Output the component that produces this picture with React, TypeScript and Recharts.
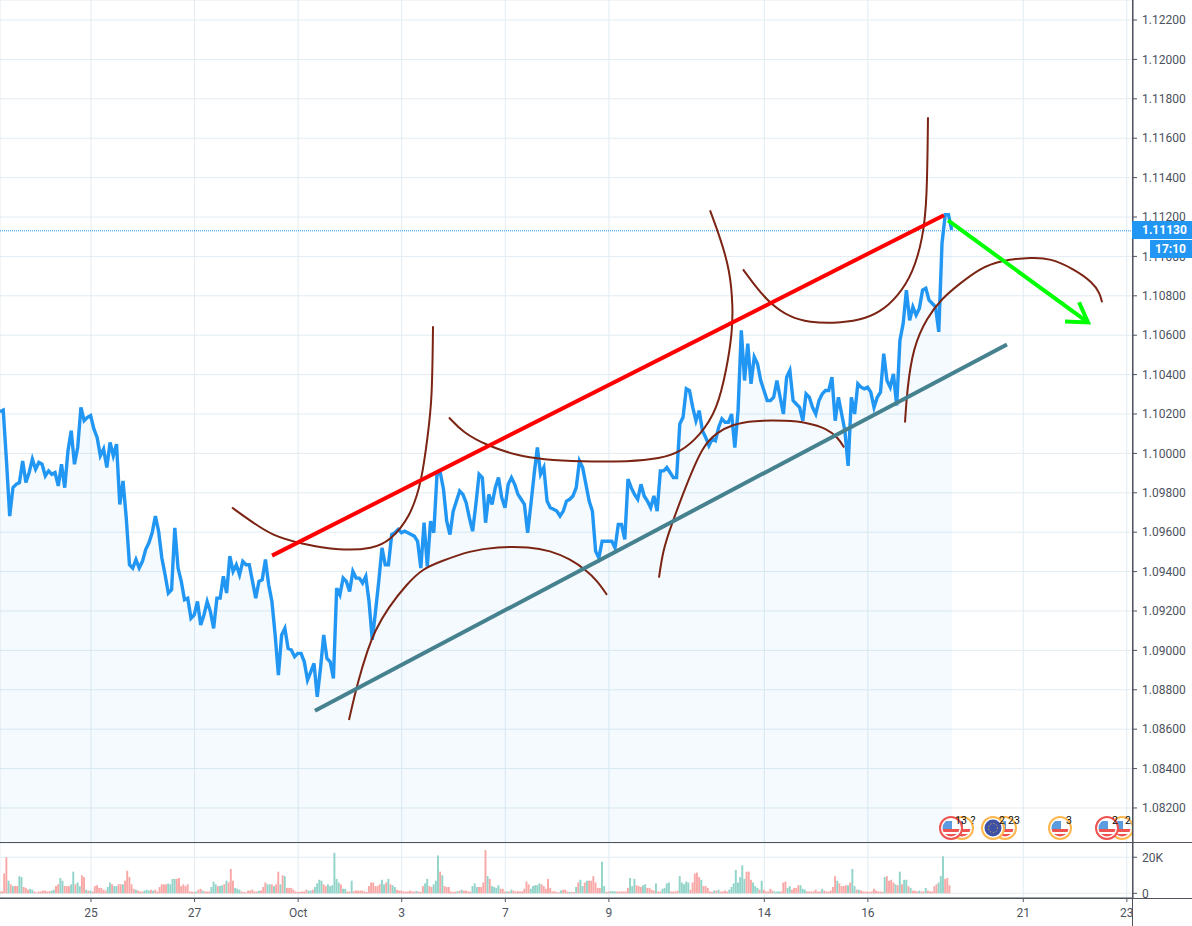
import { Area, Bar, CartesianGrid, Cell, ComposedChart, Line, ReferenceLine, XAxis, YAxis } from 'recharts';

const BAR_DOMAIN = [0, 1050];
const PRICE_DOMAIN = [1.080221, 1.123017];
const VOLUME_DOMAIN = [-2.6, 27.9];
const CLOSE_STEP = 3;
const VOLUME_STEP = 2;

const tickBars = [84.3, 180.3, 276.3, 372.3, 468.3, 564.3, 708.3, 804.3, 948.3, 1044.3];
const tickLabels = ['25', '27', 'Oct', '3', '7', '9', '14', '16', '21', '23'];
const priceTicks = [
  1.082, 1.084, 1.086, 1.088, 1.09, 1.092, 1.094, 1.096, 1.098, 1.1, 1.102, 1.104, 1.106, 1.108, 1.11, 1.112,
  1.114, 1.116, 1.118, 1.12, 1.122,
];
const volumeTicks = [0, 20];
const lastPrice = 1.1113;

// one close every 3 bars
const closes = [
  1.10212, 1.1022, 1.09962, 1.09682, 1.09826, 1.09843, 1.09852, 1.09962, 1.09852, 1.09903, 1.09971, 1.0992,
  1.09954, 1.09945, 1.09886, 1.09911, 1.09894, 1.09903, 1.09835, 1.09945, 1.09826, 1.10013, 1.10115, 1.09945,
  1.1003, 1.10234, 1.10166, 1.10183, 1.10192, 1.10124, 1.10081, 1.09988, 1.10022, 1.09928, 1.10056, 1.09988,
  1.10047, 1.09741, 1.0986, 1.09673, 1.09435, 1.09418, 1.09461, 1.09418, 1.09452, 1.09512, 1.09546, 1.09597,
  1.09682, 1.09605, 1.09469, 1.09384, 1.09291, 1.09308, 1.09622, 1.09418, 1.0935, 1.09257, 1.09265, 1.09163,
  1.0918, 1.09248, 1.09129, 1.0918, 1.09248, 1.09197, 1.09112, 1.09265, 1.09265, 1.09376, 1.09291, 1.09478,
  1.09401, 1.09435, 1.09384, 1.09452, 1.09435, 1.09435, 1.0935, 1.09265, 1.0935, 1.09359, 1.09461, 1.09333,
  1.09248, 1.09078, 1.08874, 1.09078, 1.09112, 1.0901, 1.09002, 1.08968, 1.08985, 1.08985, 1.08942, 1.08849,
  1.08891, 1.08934, 1.08764, 1.08908, 1.09078, 1.08959, 1.08942, 1.08857, 1.09316, 1.09282,
  1.09367, 1.0935, 1.09299, 1.09401, 1.09367, 1.09367, 1.09342, 1.09376, 1.09248, 1.09053, 1.09197, 1.0935,
  1.0952, 1.09435, 1.09435, 1.09588, 1.09597, 1.09614, 1.09597, 1.09605, 1.09597, 1.09588, 1.0958,
  1.09554, 1.09418, 1.09648, 1.09427, 1.09656, 1.09597, 1.09894, 1.09903, 1.09818, 1.09656, 1.09588, 1.09707,
  1.09758, 1.09809, 1.09792, 1.0975, 1.09673, 1.09605, 1.09741, 1.09894, 1.09877, 1.09648, 1.09792, 1.09741,
  1.09826, 1.09877, 1.09775, 1.09724, 1.09843, 1.09877, 1.09843, 1.09792, 1.09767, 1.09741, 1.09597, 1.09741,
  1.09894, 1.1003, 1.09894, 1.09928, 1.09758, 1.09724, 1.09716, 1.09707, 1.09682, 1.09707, 1.09758, 1.09767,
  1.09784, 1.09826, 1.09962, 1.09928, 1.09843, 1.09758, 1.09707, 1.09503, 1.09469, 1.09554, 1.09554, 1.09554,
  1.09554, 1.0952, 1.09639, 1.09639, 1.09563, 1.09869, 1.09826, 1.09792, 1.09767, 1.09843, 1.09784, 1.09758,
  1.09724, 1.09784, 1.09707,
  1.09911, 1.09911, 1.09928, 1.09903, 1.09877, 1.09877, 1.10149, 1.10183, 1.10328, 1.10319, 1.10234, 1.10166,
  1.10217, 1.10115, 1.10081, 1.10039, 1.10073, 1.10064, 1.10132, 1.10175, 1.10158, 1.10158, 1.102, 1.1003,
  1.10217, 1.10625, 1.1037, 1.10557, 1.10353, 1.10489, 1.10455, 1.1037, 1.10319, 1.10268, 1.10268, 1.10285,
  1.1037, 1.10285, 1.102, 1.10387, 1.10421, 1.10268, 1.10251, 1.10234, 1.10166, 1.10302, 1.10285, 1.10234,
  1.102, 1.10268, 1.10302, 1.10319, 1.10319, 1.10387, 1.10166, 1.10285, 1.102, 1.10115, 1.09937, 1.10285,
  1.102, 1.10353, 1.10336, 1.10328, 1.10336, 1.10311, 1.10234, 1.10285, 1.10311, 1.10506, 1.1037, 1.10336,
  1.10404, 1.10243, 1.10574, 1.10659, 1.10829, 1.10676, 1.10744, 1.10702, 1.10736, 1.10829, 1.10838, 1.10778,
  1.10761, 1.10744, 1.10617, 1.11067, 1.11212, 1.11212, 1.11135,
];

// in thousands, one value every 2 bars; negative means an up bar
const signedVolumes = [
  1, 1, 11, 20, -7, 5, -4, 4, 4, -9.5, -9, 3.5, 3, 2, -2.5, -2, 1, 0.5, 1, 1, 1.5, 1.5, 1, 1.2, -1.5, -2, 4, 5,
  -8.5, -7, 4, 4, 4, -5, -12, 5, -6, -4, 10, 9, -2, 1.5, -1.5, 1, 4, 4.5, 3, 3, 2, 1.5, -3.5, -6, 5, -4, -4, 5,
  5, -5, 7, 12.5, 9, 5, 2.5, -2, 1.5, 1, 1, -1.5, -2, -1.5, 2, -1.5, 2, 1, 3.5, 5, 5, 5, -5.5, -5, -8, -8, 8,
  8.5, 4, 5, 4, 5, 1, 1, 0.7, -1, 2, 2.5, -1.5, 1, 1, 1, -3.5, -6.5, -5, 4, -4, -4.5, 5, -7, 6, 13.5, 7, -3,
  -2.5, -2, 1, 0.7, 0.5, 1.5, 1.5, 2, 1, 1, -1.5, 1.5, 3.5, 6, -5, -5, 5, -4, 5, 12, -5, 10, -9.5, 3, 3, 3, 2,
  1, 0.8, 0.8, 1, 1, 2, -1.5, -1.5, 2, -3.5, -5.5, -7.5, -7, 5, 4, -5, -4, -4.5, -22.5, -8, -6, 5, -2.5, -2.5,
  1, 1, -7, 1.2, 1.5, 1.5, 1.5, 1.5, 1, 0.7, 4, 6, 6, 4, 4, 5, -7.5, -5, 6, -8, 5, -4.5, -3.5, 2, 1.5, 1.5,
  1, 1, 1, 1.5, 1, 1, -1.3, 1, 0.8, 4, -5.5, -8, 4, 3.5, -5, -7, -21, 12, -10, 4, 3.5, 3.5, 1, 0.7, 1, -1.2,
  1.5, -2, 1.5, 1.5, 1, 1, -4, -5.5, -3.5, 3.5, 3.5, 6, 24, -9.5, 8, -4, -3.5, -3, -4.5, 2.5, 2.5, 1, -1, 1,
  -2, 1.5, 1, 1.2, 1, 1, 2.5, 6.5, 5, -2.5, -4, -4.5, -4.5, -5.5, 5, 4, 2.5, 8, 3, 1, 1.2, 0.6, 0.6, -1.5, 2,
  2, 1, -0.8, 0.8, 0.7, -3.5, 6, -7.5, -4, 6, -7, 7, 7, 9.5, 6, 3, 3, -17.5, -4, 0.8, 1, -1.2, -1.2, -1, 1, 1,
  1, 1, 1, 3, -8.5, -4, -8, 4.5, 4, 3.5, -4.5, -5, 3, 3, 2, 1.5, -5.5, 1, 1, -2.5, -3, -5.5, -6, 1, 1, 1, 1.5,
  -9.5, -6, -5, -6.5, -6, 2, 6, 11, 11.5, 9, -7.5, 4, 4, 3, 1, 0.8, -1.5, 1.5, -2, 1, 1, 1.5, 1, -2, -3.5, -5.5,
  -13, -6, -9, -15.5, -8, 12, 12, 7.5, -6, -4, -3, 2, -7, 2, 1, 1, 2.5, 1.5, -1, -1, -1, 1, 6, 6.5, -3, -4, 2,
  3, 3, 4.5, -4.5,
  -2.5, -2, 1, 1, 1, 1, 2, 1, 1, -2.5, 1.5, 1, 1, 1.5, 3.5, 9.5, -7, 5.5, 4, 4, 4.5, -4.5, 6, -13.5, -4, 2,
  -2, 1.5, 1, 1, 1, 0.8, 1, 2.5, 1.5, 1, 1, 0.8, -9, 9.5, 7, 7.5, 6, -5, 4.5, -12, 5, -7.5, -7.5, 4, -3, 1.5,
  1.5, 1, -1.5, 1, 1, -3, 1.5, 1, 1, 4, 5, -6, -9.5, -20.5, 8, 8.5, 4.5,
];

const redTrendBars = [252.1, 874.8];
const redTrendPrices = [1.09481, 1.11209];
const tealTrendBars = [291.9, 933.2];
const tealTrendPrices = [1.08693, 1.10553];
const greenArrowBars = [878.6, 1008.3];
const greenArrowPrices = [1.11183, 1.10665];
const greenHeadBars = [1000, 1008.3, 987];
const greenHeadPrices = [1.10767, 1.10665, 1.1067];

const curveABars = [215, 234.5, 253, 278, 315.1, 345.7, 361.4, 380, 391.1, 396.6, 400.4, 401.3];
const curveAPrices = [1.09725, 1.09648, 1.09582, 1.09542, 1.09506, 1.09516, 1.09557, 1.09674, 1.09862, 1.10101, 1.10268, 1.10645];
const curveBBars = [323.4, 331.8, 341, 347.5, 359.6, 377.2, 392, 407.8, 435.6, 460.6, 491.2, 509.7, 528.2, 544, 553.3, 562.5];
const curveBPrices = [1.08647, 1.08845, 1.09008, 1.09099, 1.09216, 1.09338, 1.09415, 1.0945, 1.09506, 1.09526, 1.09526, 1.09506, 1.09465, 1.09404, 1.09354, 1.09282];
const curveCBars = [416.1, 429.1, 451.3, 479.1, 503.2, 537.5, 583.8, 611.6, 630.2, 648.7, 664.5, 673.7, 678.4, 679.3, 676.5, 667.3, 658];
const curveCPrices = [1.10182, 1.10106, 1.1004, 1.09989, 1.09969, 1.09958, 1.09958, 1.09974, 1.10004, 1.10091, 1.10218, 1.10436, 1.10609, 1.10741, 1.10929, 1.11097, 1.11234];
const curveDBars = [610.7, 614.4, 620.9, 637.6, 651.5, 664.5, 678.4, 697.8, 729.4, 747.9, 766.4, 776.6, 782.2];
const curveDPrices = [1.09369, 1.09506, 1.09618, 1.09862, 1.1004, 1.10106, 1.10146, 1.10167, 1.10167, 1.10157, 1.10126, 1.1008, 1.1003];
const curveEBars = [688.6, 701.5, 713.6, 732.1, 750.7, 772, 797, 815.5, 831.3, 846.1, 855.4, 859.1, 860];
const curveEPrices = [1.10934, 1.10838, 1.10762, 1.1069, 1.10665, 1.1066, 1.10675, 1.10716, 1.10792, 1.10914, 1.11097, 1.11285, 1.11707];
const curveFBars = [838.7, 840.6, 846.1, 859.1, 873, 889.7, 908.2, 926.7, 957.3, 973.1, 994.4, 1012.9, 1019.4, 1021.3];
const curveFPrices = [1.10157, 1.10319, 1.10538, 1.1069, 1.10787, 1.10863, 1.10939, 1.1098, 1.10995, 1.1099, 1.10939, 1.10868, 1.10812, 1.10767];

const curves = [
  [curveABars, curveAPrices],
  [curveBBars, curveBPrices],
  [curveCBars, curveCPrices],
  [curveDBars, curveDPrices],
  [curveEBars, curveEPrices],
  [curveFBars, curveFPrices],
];

const toRows = (bars: number[], prices: number[]) => bars.map((bar, i) => ({ bar, price: prices[i] }));

const closeRows = closes.map((close, i) => ({ bar: i * CLOSE_STEP, close }));
const volumeRows = signedVolumes.map((v, i) => ({ bar: i * VOLUME_STEP, volume: Math.abs(v), up: v < 0 }));

const FONT = 'Roboto, sans-serif';
const TEXT = '#4c525e';
const GRID = '#e1ecf2';
const AXIS = '#50535e';
const BLUE = '#2196f3';
const BROWN = '#7b2413';

const tickStyle = { fontSize: 12, fill: TEXT, fontFamily: FONT };

// event marker under the price pane
function Flag({ cx, kind, ring, label, labelX }: { cx: number; kind: string; ring: string; label?: string; labelX?: number }) {
  const cy = 828;
  const id = `clip-${cx}`;
  return (
    <g>
      <clipPath id={id}>
        <circle cx={cx} cy={cy} r={8.5} />
      </clipPath>
      <circle cx={cx} cy={cy} r={11} fill="#fff" stroke={ring} strokeWidth={2} />
      {kind === 'us' ? (
        <g clipPath={`url(#${id})`}>
          <rect x={cx - 9} y={cy + 1} width={18} height={3} fill="#ef5350" />
          <rect x={cx - 9} y={cy + 6} width={18} height={3} fill="#ef5350" />
          <rect x={cx - 9} y={cy - 7} width={10} height={8} fill="#5b9bdf" />
        </g>
      ) : (
        <g>
          <circle cx={cx} cy={cy} r={8.5} fill="#3f51a5" />
          <circle cx={cx} cy={cy} r={4.5} fill="none" stroke="#f5c33b" strokeWidth={1} strokeDasharray="1 2" />
        </g>
      )}
      {label ? (
        <text x={labelX} y={824} fontSize={10.5} fontFamily={FONT} fill="#111" textAnchor="middle">
          {label}
        </text>
      ) : null}
    </g>
  );
}

export default function App() {
  return (
    <div style={{ position: 'absolute', left: 0, top: 0, width: 1192, height: 926, overflow: 'hidden', background: '#fff' }}>
      <div style={{ position: 'absolute', left: 0, top: 0 }}>
        <ComposedChart width={1192} height={843} data={closeRows} margin={{ top: 0, right: 0, bottom: 0, left: 0 }}>
          <CartesianGrid stroke={GRID} />
          <XAxis dataKey="bar" type="number" domain={BAR_DOMAIN} ticks={tickBars} allowDataOverflow hide />
          <YAxis
            orientation="right"
            type="number"
            domain={PRICE_DOMAIN}
            ticks={priceTicks}
            interval={0}
            allowDataOverflow
            width={59}
            stroke={AXIS}
            tick={tickStyle}
            tickSize={4}
            tickMargin={5}
            tickFormatter={(v: number) => v.toFixed(5)}
          />
          <ReferenceLine y={lastPrice} stroke={BLUE} strokeDasharray="1 1" />
          <Area
            dataKey="close"
            type="linear"
            stroke={BLUE}
            strokeWidth={3.4}
            fill={BLUE}
            fillOpacity={0.05}
            baseValue={PRICE_DOMAIN[0]}
            isAnimationActive={false}
            dot={false}
            activeDot={false}
          />
          {curves.map(([bars, prices], i) => (
            <Line
              key={i}
              data={toRows(bars, prices)}
              dataKey="price"
              type="basis"
              stroke={BROWN}
              strokeWidth={2}
              dot={false}
              activeDot={false}
              isAnimationActive={false}
            />
          ))}
          <Line data={toRows(redTrendBars, redTrendPrices)} dataKey="price" type="linear" stroke="#ff0000" strokeWidth={4} dot={false} activeDot={false} isAnimationActive={false} />
          <Line data={toRows(tealTrendBars, tealTrendPrices)} dataKey="price" type="linear" stroke="#45818e" strokeWidth={4} dot={false} activeDot={false} isAnimationActive={false} />
          <Line data={toRows(greenArrowBars, greenArrowPrices)} dataKey="price" type="linear" stroke="#00ff00" strokeWidth={4} dot={false} activeDot={false} isAnimationActive={false} />
          <Line data={toRows(greenHeadBars, greenHeadPrices)} dataKey="price" type="linear" stroke="#00ff00" strokeWidth={4} dot={false} activeDot={false} isAnimationActive={false} />
        </ComposedChart>
      </div>

      <div style={{ position: 'absolute', left: 0, top: 843 }}>
        <ComposedChart width={1192} height={83} data={volumeRows} margin={{ top: 0, right: 0, bottom: 0, left: 0 }}>
          <CartesianGrid stroke={GRID} />
          <XAxis
            dataKey="bar"
            type="number"
            domain={BAR_DOMAIN}
            ticks={tickBars}
            interval={0}
            allowDataOverflow
            height={28}
            stroke={AXIS}
            tick={tickStyle}
            tickSize={4}
            tickMargin={6}
            tickFormatter={(_v: number, i: number) => tickLabels[i]}
          />
          <YAxis
            orientation="right"
            type="number"
            domain={VOLUME_DOMAIN}
            ticks={volumeTicks}
            interval={0}
            allowDataOverflow
            width={59}
            stroke={AXIS}
            tick={tickStyle}
            tickSize={4}
            tickMargin={5}
            tickFormatter={(v: number) => (v === 0 ? '0' : `${v}K`)}
          />
          <Bar dataKey="volume" barSize={3} isAnimationActive={false}>
            {volumeRows.map((row) => (
              <Cell key={row.bar} fill={row.up ? '#92d4c9' : '#f8a9a7'} />
            ))}
          </Bar>
        </ComposedChart>
      </div>

      <svg width={1192} height={926} style={{ position: 'absolute', left: 0, top: 0, pointerEvents: 'none' }}>
        <svg x={0} y={0} width={1132} height={926}>
          <Flag cx={962} kind="us" ring="#ffb74d" label="?" labelX={973} />
          <Flag cx={951} kind="us" ring="#ef5350" label="13" labelX={961} />
          <Flag cx={1005} kind="us" ring="#ffb74d" label="23" labelX={1014} />
          <Flag cx={993} kind="eu" ring="#ffb74d" label="2" labelX={1002} />
          <Flag cx={1060} kind="us" ring="#ffb74d" label="3" labelX={1069} />
          <Flag cx={1122} kind="us" ring="#ffb74d" label="2" labelX={1128} />
          <Flag cx={1107} kind="us" ring="#ef5350" label="2" labelX={1115} />
        </svg>
      </svg>

      <div style={{ position: 'absolute', left: 1133, top: 899, width: 59, height: 27, background: '#fff' }} />
      <div style={{ position: 'absolute', left: 0, top: 842, width: 1192, height: 1, background: AXIS }} />
      <div style={{ position: 'absolute', left: 0, top: 898, width: 1192, height: 1, background: AXIS }} />
      <div style={{ position: 'absolute', left: 1132, top: 0, width: 1, height: 926, background: AXIS }} />

      <div style={{ position: 'absolute', left: 1132, top: 221, width: 60, height: 18, background: BLUE, color: '#fff', fontFamily: FONT, fontSize: 12, fontWeight: 700, lineHeight: '18px', paddingLeft: 10, boxSizing: 'border-box' }}>
        {lastPrice.toFixed(5)}
      </div>
      <div style={{ position: 'absolute', left: 1150, top: 240, width: 42, height: 18, background: BLUE, color: '#fff', fontFamily: FONT, fontSize: 12, fontWeight: 700, lineHeight: '18px', paddingLeft: 5, boxSizing: 'border-box' }}>
        17:10
      </div>
    </div>
  );
}
